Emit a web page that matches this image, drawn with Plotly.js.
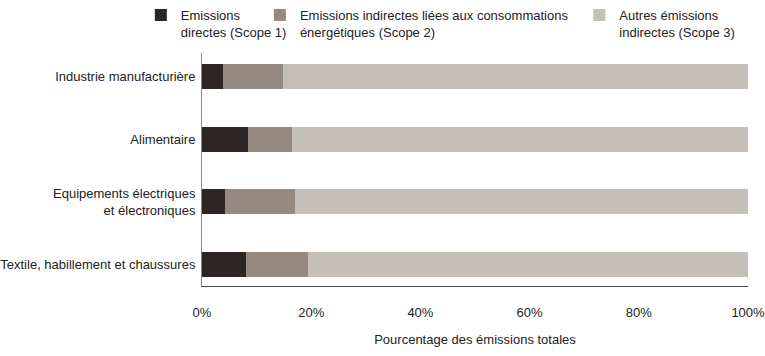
<!DOCTYPE html>
<html><head><meta charset="utf-8">
<script src="https://cdn.plot.ly/plotly-3.0.1.min.js"></script>
<style>html,body{margin:0;padding:0;background:#fff;}#chart{width:765px;height:356px;}</style>
</head><body><div id="chart"></div>
<script>
const categories = ["Industrie manufacturière", "Alimentaire", "Equipements électriques<br>et électroniques", "Textile, habillement et chaussures"];
const scope1 = [3.8, 8.5, 4.2, 8.1];
const scope2 = [11.0, 8.0, 12.8, 11.4];
const scope3 = [85.2, 83.5, 83.0, 80.5];
const seriesNames = ["Emissions<br>directes (Scope 1)", "Emissions indirectes liées aux consommations<br>énergétiques (Scope 2)", "Autres émissions<br>indirectes (Scope 3)"];
const colors = ["#2d2624", "#968a80", "#c4bfb9"];
const tickVals = [0, 20, 40, 60, 80, 100];
const tickText = ["0%", "20%", "40%", "60%", "80%", "100%"];

const FONT = "'Liberation Sans', Arial, sans-serif";
const FS = 13;
const data = [scope1, scope2, scope3].map((vals, i) => ({
  type: 'bar', orientation: 'h', x: vals, y: categories, name: seriesNames[i],
  marker: {color: colors[i], line: {width: 0}}, width: 0.4,
  legend: i === 0 ? 'legend' : 'legend' + (i + 1), hoverinfo: 'skip'
}));
const legendBase = {orientation: 'v', yref: 'container', yanchor: 'top', xanchor: 'left', y: 1, valign: 'top',
  font: {family: FONT, size: FS, color: '#222'}, bgcolor: 'rgba(0,0,0,0)', itemwidth: 30, tracegroupgap: 0};
const layout = {
  width: 765, height: 356, margin: {l: 202, r: 17, t: 53, b: 70},
  paper_bgcolor: '#fff', plot_bgcolor: '#fff',
  font: {family: FONT, size: FS, color: '#222'},
  barmode: 'stack', bargap: 0.6,
  showlegend: true,
  legend: Object.assign({}, legendBase, {x: -0.112}),
  legend2: Object.assign({}, legendBase, {x: 0.106}),
  legend3: Object.assign({}, legendBase, {x: 0.691}),
  xaxis: {range: [0, 100], tickvals: tickVals, ticktext: tickText, showgrid: false, zeroline: false,
    showline: true, linecolor: '#4a4a4a', linewidth: 1, ticks: '', ticklabelstandoff: 14,
    ticklabeloverflow: 'allow',
    tickfont: {family: FONT, size: FS, color: '#222'},
    title: {text: 'Pourcentage des émissions totales', standoff: 16, font: {family: FONT, size: FS, color: '#222'}}},
  yaxis: {type: 'category', range: [3.35, -0.376], showgrid: false, zeroline: false,
    showline: true, linecolor: '#8a8a8a', linewidth: 1, ticks: '', ticklabelstandoff: 3,
    tickfont: {family: FONT, size: FS, color: '#222'}}
};
Plotly.newPlot('chart', data, layout, {displayModeBar: false, staticPlot: true});
</script></body></html>
